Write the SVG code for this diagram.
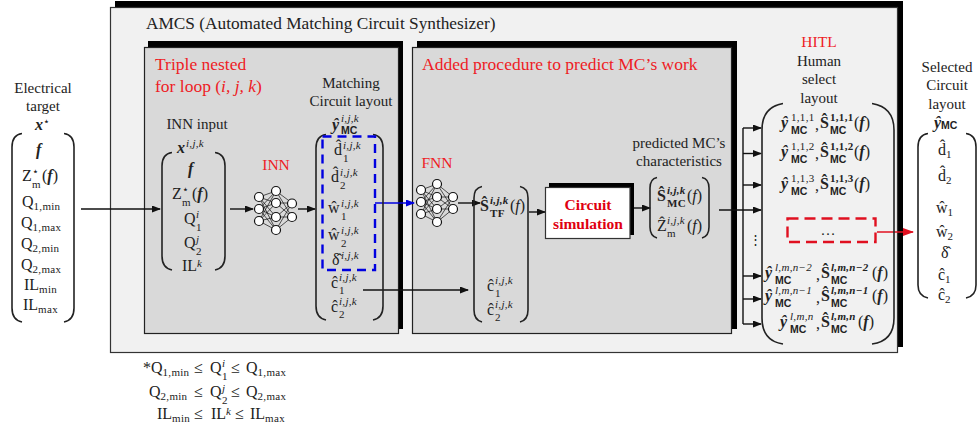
<svg xmlns="http://www.w3.org/2000/svg" width="977" height="428" viewBox="0 0 977 428">
<defs>
<marker id="ah" markerWidth="9" markerHeight="7" refX="8" refY="3.5" orient="auto" markerUnits="userSpaceOnUse"><path d="M0 0L9 3.5L0 7z" fill="#111"/></marker>
<marker id="ahb" markerWidth="9" markerHeight="7" refX="8" refY="3.5" orient="auto" markerUnits="userSpaceOnUse"><path d="M0 0L9 3.5L0 7z" fill="#0000e0"/></marker>
<marker id="ahr" markerWidth="11" markerHeight="8" refX="10" refY="4" orient="auto" markerUnits="userSpaceOnUse"><path d="M0 0L11 4L0 8z" fill="#e01020"/></marker>
</defs>
<style>
text{font-family:"Liberation Serif",serif;fill:#222;font-size:15px}
.c{text-anchor:middle}
.t{font-size:17.3px}
.r{fill:#ee1c25;font-size:17.5px}
.r2{fill:#ee1c25;font-size:15.5px}
.m{font-size:16px}
.b{font-weight:bold}
.i{font-style:italic}
.bi{font-weight:bold;font-style:italic}
.u{font-weight:normal;font-style:normal}
.ub{font-weight:bold;font-style:normal}
.sn{font-size:11px;font-weight:normal;font-style:normal;letter-spacing:.3px}
.si{font-size:11px;font-weight:normal;font-style:italic;letter-spacing:.3px}
.sb{font-size:11px;font-weight:bold;font-style:normal;letter-spacing:.3px}
.sbi{font-size:11px;font-weight:bold;font-style:italic;letter-spacing:.3px}
.mc{font-family:"Liberation Sans",sans-serif;font-size:10.500px;font-weight:bold;font-style:normal}
.br{fill:none;stroke:#222;stroke-width:1.6}
.l{fill:none;stroke:#111;stroke-width:1.4}
.n circle{fill:#fff;stroke:#111;stroke-width:1.2}
.n path{fill:none;stroke:#111;stroke-width:.7}
</style>
<rect width="977" height="428" fill="#fff"/>

<g id="amcs">
<rect x="115" y="1" width="788" height="346" fill="#000"/>
<rect x="110.500" y="7.500" width="787" height="345" fill="#f1f1f1" stroke="#333" stroke-width="1.2"/>
<text x="146" y="29" class="t">AMCS (Automated Matching Circuit Synthesizer)</text>
</g>

<g id="panel-loop">
<rect x="148" y="41" width="255" height="288" fill="#000"/>
<rect x="144.500" y="47.500" width="254" height="286" fill="#d9d9d9" stroke="#222" stroke-width="1.2"/>
<text x="155" y="70" class="r">Triple nested</text>
<text x="155" y="92" class="r">for loop (<tspan class="i">i, j, k</tspan>)</text>
</g>

<g id="panel-predict">
<rect x="417" y="41" width="320" height="288" fill="#000"/>
<rect x="412.500" y="47.500" width="319" height="286" fill="#d9d9d9" stroke="#222" stroke-width="1.2"/>
<text x="422" y="70" class="r">Added procedure to predict MC’s work</text>
</g>

<g id="connectors">
<path class="l" d="M81 209H160" marker-end="url(#ah)"/>
<path class="l" d="M230 209H253" marker-end="url(#ah)"/>
<path class="l" d="M298 209H315" marker-end="url(#ah)"/>
<path d="M375 203H414" fill="none" stroke="#0000e0" stroke-width="1.4" marker-end="url(#ahb)"/>
<path class="l" d="M458 203H480" marker-end="url(#ah)"/>
<path class="l" d="M529 212H545" marker-end="url(#ah)"/>
<path class="l" d="M634 208H650" marker-end="url(#ah)"/>
<path class="l" d="M363 290H468" marker-end="url(#ah)"/>
<path class="l" d="M719 210H761" marker-end="url(#ah)"/>
<path class="l" d="M743 128V324"/>
<path class="l" d="M743 128H761" marker-end="url(#ah)"/>
<path class="l" d="M743 153.500H761" marker-end="url(#ah)"/>
<path class="l" d="M743 185H761" marker-end="url(#ah)"/>
<path class="l" d="M743 276H761" marker-end="url(#ah)"/>
<path class="l" d="M743 299H761" marker-end="url(#ah)"/>
<path class="l" d="M743 324H761" marker-end="url(#ah)"/>
<path d="M877 232H913" fill="none" stroke="#e01020" stroke-width="1.6" marker-end="url(#ahr)"/>
</g>

<g id="electrical-target">
<path class="br" d="M22 133.500Q12 135 12 147V308Q12 320 22 322M64 133.500Q74 135 74 147V308Q74 320 64 322"/>
<text x="43" y="93" class="c">Electrical</text>
<text x="43" y="111" class="c">target</text>
<text x="35" y="130" class="m bi">x<tspan class="sn" dy="-5">⋆</tspan></text>
<text x="36" y="155" class="m bi">f</text>
<text x="22" y="181" class="m">Z<tspan class="sn" x="32" y="175">⋆</tspan><tspan class="sn" x="32" y="188">m</tspan><tspan x="42" y="181">(</tspan><tspan class="bi">f</tspan>)</text>
<text x="22" y="207" class="m">Q<tspan class="sn" dy="3">1,min</tspan></text>
<text x="21" y="228" class="m">Q<tspan class="sn" dy="3">1,max</tspan></text>
<text x="21" y="249" class="m">Q<tspan class="sn" dy="3">2,min</tspan></text>
<text x="21" y="270" class="m">Q<tspan class="sn" dy="3">2,max</tspan></text>
<text x="24" y="290" class="m">IL<tspan class="sn" dy="3">min</tspan></text>
<text x="23" y="310" class="m">IL<tspan class="sn" dy="3">max</tspan></text>
</g>

<g id="inn-input">
<path class="br" d="M172 152.500Q162 154 162 166V256Q162 268 172 270M215 152.500Q225 154 225 166V256Q225 268 215 270"/>
<text x="197" y="129" class="c">INN input</text>
<text x="177" y="153" class="m bi">x<tspan class="si" x="186" y="147">i,j,k</tspan></text>
<text x="188" y="174" class="m bi">f</text>
<text x="172" y="199" class="m">Z<tspan class="sn" x="182" y="193">⋆</tspan><tspan class="sn" x="182" y="206">m</tspan><tspan x="192" y="199">(</tspan><tspan class="bi">f</tspan>)</text>
<text x="184" y="224" class="m">Q<tspan class="si" x="196" y="218">i</tspan><tspan class="sn" x="196" y="231">1</tspan></text>
<text x="184" y="248" class="m">Q<tspan class="si" x="196" y="243">j</tspan><tspan class="sn" x="196" y="255">2</tspan></text>
<text x="182" y="271" class="m">IL<tspan class="si" dy="-4">k</tspan></text>
</g>

<g id="inn">
<text x="276" y="170" class="c r2">INN</text>
<g class="n">
<path d="M259 197L276 191M259 197L276 203M259 197L276 217M259 197L276 230M259 209L276 191M259 209L276 203M259 209L276 217M259 209L276 230M259 221L276 191M259 221L276 203M259 221L276 217M259 221L276 230M276 191L292 203M276 191L292 217M276 203L292 203M276 203L292 217M276 217L292 203M276 217L292 217M276 230L292 203M276 230L292 217"/>
<circle cx="259" cy="197" r="4.500"/><circle cx="259" cy="209" r="4.500"/><circle cx="259" cy="221" r="4.500"/>
<circle cx="276" cy="191" r="4.500"/><circle cx="276" cy="203" r="4.500"/><circle cx="276" cy="217" r="4.500"/><circle cx="276" cy="230" r="4.500"/>
<circle cx="292" cy="203.500" r="4.500"/><circle cx="292" cy="217" r="4.500"/>
</g>
</g>

<g id="matching-layout">
<path class="br" d="M326 134.500Q316 136 316 148V306Q316 318 326 320M373 134.500Q383 136 383 148V306Q383 318 373 320"/>
<rect x="322.500" y="136.500" width="52.500" height="133.500" fill="none" stroke="#0000e0" stroke-width="2.400" stroke-dasharray="9 6"/>
<text x="351" y="88" class="c">Matching</text>
<text x="351" y="106" class="c">Circuit layout</text>
<text x="332" y="130" class="m bi">ŷ<tspan class="si" x="341" y="122">i,j,k</tspan><tspan class="mc" x="341" y="134">MC</tspan></text>
<text x="334" y="155" class="m">d̂<tspan class="si" x="343" y="149">i,j,k</tspan><tspan class="sn" x="343" y="162">1</tspan></text>
<text x="331" y="182" class="m">d̂<tspan class="si" x="340" y="176">i,j,k</tspan><tspan class="sn" x="340" y="189">2</tspan></text>
<text x="328" y="213" class="m">ŵ<tspan class="si" x="341" y="207">i,j,k</tspan><tspan class="sn" x="341" y="220">1</tspan></text>
<text x="328" y="240" class="m">ŵ<tspan class="si" x="341" y="234">i,j,k</tspan><tspan class="sn" x="341" y="247">2</tspan></text>
<text x="332" y="265" class="m">δ̂<tspan class="si" x="341" y="259">i,j,k</tspan></text>
<text x="331" y="288" class="m">ĉ<tspan class="si" x="339" y="281">i,j,k</tspan><tspan class="sn" x="339" y="294">1</tspan></text>
<text x="331" y="312" class="m">ĉ<tspan class="si" x="339" y="305">i,j,k</tspan><tspan class="sn" x="339" y="318">2</tspan></text>
</g>

<g id="fnn">
<text x="437" y="168" class="c r2">FNN</text>
<g class="n">
<path d="M421 190L437 184M421 190L437 197M421 190L437 209M421 190L437 222M421 202L437 184M421 202L437 197M421 202L437 209M421 202L437 222M421 214L437 184M421 214L437 197M421 214L437 209M421 214L437 222M437 184L453 197M437 184L453 209M437 197L453 197M437 197L453 209M437 209L453 197M437 209L453 209M437 222L453 197M437 222L453 209"/>
<circle cx="421" cy="190" r="4.500"/><circle cx="421" cy="202" r="4.500"/><circle cx="421" cy="214" r="4.500"/>
<circle cx="437" cy="184" r="4.500"/><circle cx="437" cy="197" r="4.500"/><circle cx="437" cy="209" r="4.500"/><circle cx="437" cy="222" r="4.500"/>
<circle cx="453" cy="197" r="4.500"/><circle cx="453" cy="209" r="4.500"/>
</g>
</g>

<g id="fnn-output">
<path class="br" d="M482 186.500Q474 188 474 198V310Q474 320 482 322M520 186.500Q528 188 528 198V310Q528 320 520 322"/>
<text x="480" y="211" class="m b">Ŝ<tspan class="sbi" x="490" y="204">i,j,k</tspan><tspan class="sb" x="490" y="217">TF</tspan><tspan x="510" y="211" class="u">(</tspan><tspan class="i" font-weight="normal">f</tspan><tspan class="u">)</tspan></text>
<text x="487" y="291" class="m">ĉ<tspan class="si" x="495" y="284">i,j,k</tspan><tspan class="sn" x="495" y="297">1</tspan></text>
<text x="487" y="315" class="m">ĉ<tspan class="si" x="495" y="308">i,j,k</tspan><tspan class="sn" x="495" y="321">2</tspan></text>
</g>

<g id="circuit-simulation">
<rect x="549" y="183" width="85" height="52" fill="#000"/>
<rect x="545.500" y="187.500" width="84.500" height="51" fill="#fff" stroke="#333" stroke-width="1.200"/>
<text x="588" y="210" class="c b" style="fill:#e00010;font-size:15.500px">Circuit</text>
<text x="588" y="229" class="c b" style="fill:#e00010;font-size:15.500px">simulation</text>
</g>

<g id="predicted">
<path class="br" d="M657 177.500Q650 179 650 188V227Q650 236 657 238M702 177.500Q709 179 709 188V227Q709 236 702 238"/>
<text x="679" y="148" class="c">predicted MC’s</text>
<text x="679" y="166" class="c">characteristics</text>
<text x="657" y="201" class="m b">Ŝ<tspan class="sbi" x="667" y="194">i,j,k</tspan><tspan class="sb" x="667" y="207">MC</tspan><tspan x="687" y="201" class="u">(</tspan><tspan class="i" font-weight="normal">f</tspan><tspan class="u">)</tspan></text>
<text x="657" y="231" class="m">Ẑ<tspan class="si" x="667" y="224">i,j,k</tspan><tspan class="sn" x="667" y="237">m</tspan><tspan x="687" y="231" class="u">(</tspan><tspan class="i">f</tspan><tspan class="u">)</tspan></text>
</g>

<g id="hitl">
<path class="br" d="M783 103.500Q762 107 762 130V318Q762 341 783 344M872 103.500Q894 107 894 130V318Q894 341 872 344"/>
<text x="819" y="47" class="c r2">HITL</text>
<text x="819" y="66" class="c">Human</text>
<text x="819" y="84" class="c">select</text>
<text x="819" y="103" class="c">layout</text>
<text x="781" y="128" class="m bi">ŷ<tspan class="sn" x="791" y="121">1,1,1</tspan><tspan class="mc" x="791" y="134">MC</tspan><tspan x="815" y="130" class="u">,</tspan><tspan x="820" y="128" class="ub">Ŝ</tspan><tspan class="sb" x="830" y="121">1,1,1</tspan><tspan class="mc" x="830" y="134">MC</tspan><tspan x="854" y="128" class="u">(</tspan><tspan>f</tspan><tspan class="u">)</tspan></text>
<text x="781" y="157" class="m bi">ŷ<tspan class="sn" x="791" y="150">1,1,2</tspan><tspan class="mc" x="791" y="163">MC</tspan><tspan x="815" y="159" class="u">,</tspan><tspan x="820" y="157" class="ub">Ŝ</tspan><tspan class="sb" x="830" y="150">1,1,2</tspan><tspan class="mc" x="830" y="163">MC</tspan><tspan x="854" y="157" class="u">(</tspan><tspan>f</tspan><tspan class="u">)</tspan></text>
<text x="781" y="189" class="m bi">ŷ<tspan class="sn" x="791" y="182">1,1,3</tspan><tspan class="mc" x="791" y="195">MC</tspan><tspan x="815" y="191" class="u">,</tspan><tspan x="820" y="189" class="ub">Ŝ</tspan><tspan class="sb" x="830" y="182">1,1,3</tspan><tspan class="mc" x="830" y="195">MC</tspan><tspan x="854" y="189" class="u">(</tspan><tspan>f</tspan><tspan class="u">)</tspan></text>
<rect x="787.500" y="218.500" width="88" height="23.500" fill="none" stroke="#e01020" stroke-width="2.400" stroke-dasharray="11 6"/>
<text x="828" y="235" class="c">…</text>
<text x="755" y="244" class="c" style="font-size:13px">⋮</text>
<text x="765" y="278" class="m bi">ŷ<tspan class="si" x="775" y="271">l,m,n−2</tspan><tspan class="mc" x="775" y="284">MC</tspan><tspan x="816" y="280" class="u">,</tspan><tspan x="821" y="278" class="ub">Ŝ</tspan><tspan class="sbi" x="831" y="271">l,m,n−2</tspan><tspan class="mc" x="831" y="284">MC</tspan><tspan x="872" y="278" class="u">(</tspan><tspan>f</tspan><tspan class="u">)</tspan></text>
<text x="765" y="301" class="m bi">ŷ<tspan class="si" x="775" y="294">l,m,n−1</tspan><tspan class="mc" x="775" y="307">MC</tspan><tspan x="816" y="303" class="u">,</tspan><tspan x="821" y="301" class="ub">Ŝ</tspan><tspan class="sbi" x="831" y="294">l,m,n−1</tspan><tspan class="mc" x="831" y="307">MC</tspan><tspan x="872" y="301" class="u">(</tspan><tspan>f</tspan><tspan class="u">)</tspan></text>
<text x="780" y="327" class="m bi">ŷ<tspan class="si" x="790" y="320">l,m,n</tspan><tspan class="mc" x="790" y="333">MC</tspan><tspan x="816" y="329" class="u">,</tspan><tspan x="821" y="327" class="ub">Ŝ</tspan><tspan class="sbi" x="831" y="320">l,m,n</tspan><tspan class="mc" x="831" y="333">MC</tspan><tspan x="858" y="327" class="u">(</tspan><tspan>f</tspan><tspan class="u">)</tspan></text>
</g>

<g id="selected-layout">
<path class="br" d="M928 133.500Q918 135 918 147V285Q918 296 928 298M966 133.500Q976 135 976 147V285Q976 296 966 298"/>
<text x="947" y="72" class="c">Selected</text>
<text x="947" y="90" class="c">Circuit</text>
<text x="947" y="109" class="c">layout</text>
<text x="934" y="128" class="m bi">ŷ<tspan class="mc" dy="1">MC</tspan></text>
<text x="938" y="155" class="m">d̂<tspan class="sn" dy="3">1</tspan></text>
<text x="938" y="181" class="m">d̂<tspan class="sn" dy="3">2</tspan></text>
<text x="936" y="213" class="m">ŵ<tspan class="sn" dy="3">1</tspan></text>
<text x="936" y="237" class="m">ŵ<tspan class="sn" dy="3">2</tspan></text>
<text x="941" y="258" class="m">δ̂</text>
<text x="938" y="280" class="m">ĉ<tspan class="sn" dy="3">1</tspan></text>
<text x="938" y="300" class="m">ĉ<tspan class="sn" dy="3">2</tspan></text>
</g>

<g id="constraints">
<text x="143" y="373" class="m">*Q<tspan class="sn" dy="3">1,min</tspan><tspan x="194" y="373">≤</tspan><tspan x="210" y="373">Q</tspan><tspan class="si" x="222" y="367">i</tspan><tspan class="sn" x="222" y="380">1</tspan><tspan x="231" y="373">≤</tspan><tspan x="246" y="373">Q</tspan><tspan class="sn" dy="3">1,max</tspan></text>
<text x="149" y="397" class="m">Q<tspan class="sn" dy="3">2,min</tspan><tspan x="194" y="397">≤</tspan><tspan x="210" y="397">Q</tspan><tspan class="si" x="222" y="392">j</tspan><tspan class="sn" x="222" y="404">2</tspan><tspan x="231" y="397">≤</tspan><tspan x="246" y="397">Q</tspan><tspan class="sn" dy="3">2,max</tspan></text>
<text x="157" y="419" class="m">IL<tspan class="sn" dy="3">min</tspan><tspan x="194" y="419">≤</tspan><tspan x="211" y="419">IL</tspan><tspan class="si" dy="-4">k</tspan><tspan x="235" y="419">≤</tspan><tspan x="250" y="419">IL</tspan><tspan class="sn" dy="3">max</tspan></text>
</g>
</svg>
